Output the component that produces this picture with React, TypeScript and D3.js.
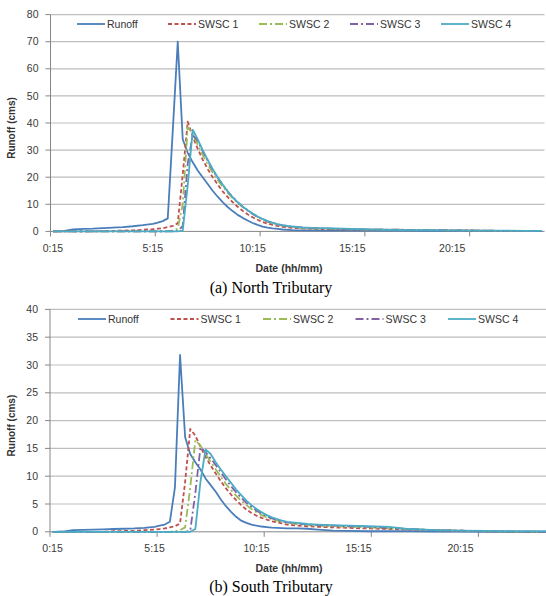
import React from "react";
import * as d3 from "d3";

// sample times in hours (15 min steps near the peak, coarser in the tails)
const sampleTimes = [
  0.25, 0.75, 1.25, 1.75, 2.25, 2.75, 3.25, 3.75, 4.25, 4.75, 5.25,
  5.5, 5.75, 6.0, 6.25, 6.5, 6.75, 7.0, 7.25, 7.5, 7.75, 8.0, 8.25, 8.5, 8.75, 9.0,
  9.25, 9.5, 9.75, 10.0, 10.25, 10.5, 10.75, 11.0, 11.25, 11.5, 11.75,
  12.25, 12.75, 13.25, 14.0, 14.75, 15.75, 16.75, 17.75, 19.0, 20.25, 21.5, 22.75, 24.0, 24.75,
];

const tickLabels = ["0:15", "5:15", "10:15", "15:15", "20:15"];
const seriesNames = ["Runoff", "SWSC 1", "SWSC 2", "SWSC 3", "SWSC 4"];

// (a) North Tributary
const northRunoff = [
  0, 0.1, 0.7, 0.9, 1.0, 1.2, 1.4, 1.6, 1.9, 2.3, 2.8,
  3.2, 3.8, 4.8, 37, 70, 34, 29, 25.5, 22.5, 20, 17.5, 15, 12.8, 10.8, 9, 7.5, 6.1, 5, 4, 3.1, 2.4, 1.8, 1.4, 1.1, 0.9, 0.7,
  0.5, 0.4, 0.4, 0.3, 0.3, 0.3, 0.3, 0.3, 0.2, 0.2, 0.2, 0.1, 0.1, 0.1,
];
const northSwsc1 = [
  0, 0, 0, 0, 0, 0.1, 0.2, 0.3, 0.4, 0.6, 0.8,
  1.0, 1.2, 1.6, 2.0, 3.0, 21, 40.5, 35, 30.5, 26.5, 23, 20, 17.3, 14.8, 12.7, 10.8, 9.1, 7.6, 6.3, 5.2, 4.3, 3.5, 2.9, 2.4, 2.0, 1.7,
  1.3, 1.1, 1.0, 0.8, 0.7, 0.6, 0.6, 0.5, 0.5, 0.4, 0.3, 0.2, 0.2, 0.1,
];
const northSwsc2 = [
  0, 0, 0, 0, 0, 0, 0, 0, 0, 0, 0,
  0, 0, 0.1, 0.3, 1.0, 10, 38.5, 36, 32, 28.3, 24.8, 21.7, 19, 16.5, 14.3, 12.3, 10.5, 9, 7.6, 6.4, 5.3, 4.4, 3.6, 3.0, 2.5, 2.1,
  1.6, 1.3, 1.1, 0.9, 0.8, 0.7, 0.6, 0.6, 0.5, 0.4, 0.3, 0.2, 0.2, 0.1,
];
const northSwsc3 = [
  0, 0, 0, 0, 0, 0, 0, 0, 0, 0, 0,
  0, 0, 0, 0, 0.1, 2, 25, 35.5, 33.5, 29.5, 26, 22.7, 19.8, 17.2, 14.8, 12.7, 10.8, 9.2, 7.8, 6.5, 5.4, 4.5, 3.7, 3.1, 2.6, 2.2,
  1.7, 1.4, 1.2, 1.0, 0.8, 0.7, 0.6, 0.6, 0.5, 0.4, 0.3, 0.2, 0.2, 0.1,
];
const northSwsc4 = [
  0, 0, 0, 0, 0, 0, 0, 0, 0, 0, 0,
  0, 0, 0, 0, 0, 0.3, 17, 37.5, 34, 30, 26.5, 23, 20, 17.3, 14.8, 12.6, 10.8, 9.2, 7.8, 6.6, 5.5, 4.6, 3.8, 3.2, 2.7, 2.3,
  1.8, 1.5, 1.3, 1.2, 1.0, 0.8, 0.6, 0.5, 0.5, 0.4, 0.3, 0.3, 0.2, 0.2,
];

// (b) South Tributary
const southRunoff = [
  0, 0.05, 0.3, 0.35, 0.4, 0.45, 0.5, 0.55, 0.6, 0.7, 0.9,
  1.1, 1.3, 1.8, 8, 31.8, 17, 14, 12.5, 11.2, 9.6, 8.4, 7.2, 5.8, 4.6, 3.6, 2.7, 2.0, 1.6, 1.3, 1.1, 0.95, 0.85, 0.75, 0.7, 0.65, 0.6,
  0.6, 0.55, 0.4, 0.2, 0.15, 0.1, 0.1, 0.1, 0.05, 0.05, 0, 0, 0, 0,
];
const southSwsc1 = [
  0, 0, 0, 0, 0, 0, 0.1, 0.15, 0.2, 0.3, 0.4,
  0.5, 0.6, 0.8, 1.0, 1.5, 9, 18.5, 17.3, 15.3, 13.5, 11.9, 10.5, 9.1, 7.8, 6.7, 5.7, 4.8, 4.0, 3.4, 2.9, 2.5, 2.2, 1.9, 1.7, 1.5, 1.3,
  1.1, 1.0, 0.9, 0.8, 0.7, 0.6, 0.5, 0.4, 0.3, 0.2, 0.1, 0.05, 0, 0,
];
const southSwsc2 = [
  0, 0, 0, 0, 0, 0, 0, 0, 0, 0, 0,
  0, 0, 0, 0.1, 0.3, 0.8, 8, 16.5, 15.5, 14, 12.6, 11.2, 9.9, 8.6, 7.5, 6.5, 5.6, 4.8, 4.1, 3.5, 3.0, 2.6, 2.3, 2.0, 1.8, 1.6,
  1.4, 1.2, 1.1, 1.0, 0.9, 0.8, 0.6, 0.5, 0.3, 0.2, 0.1, 0.05, 0, 0,
];
const southSwsc3 = [
  0, 0, 0, 0, 0, 0, 0, 0, 0, 0, 0,
  0, 0, 0, 0, 0, 0, 0.2, 7, 15.2, 14.3, 13.2, 12, 10.7, 9.4, 8.2, 7.1, 6.1, 5.2, 4.5, 3.8, 3.3, 2.8, 2.4, 2.1, 1.9, 1.7,
  1.5, 1.3, 1.2, 1.1, 1.0, 0.9, 0.7, 0.5, 0.3, 0.2, 0.1, 0.05, 0, 0,
];
const southSwsc4 = [
  0, 0, 0, 0, 0, 0, 0, 0, 0, 0, 0,
  0, 0, 0, 0, 0, 0, 0, 0.5, 9, 14.8, 14, 12.5, 11.2, 10, 8.8, 7.6, 6.6, 5.6, 4.8, 4.1, 3.5, 3.0, 2.6, 2.3, 2.0, 1.8,
  1.6, 1.4, 1.3, 1.2, 1.1, 1.0, 0.9, 0.5, 0.3, 0.2, 0.15, 0.1, 0.1, 0.1,
];

const styles = [
  { color: "#4A7EBB", dash: "" },
  { color: "#C0504D", dash: "4,2.5" },
  { color: "#9BBB59", dash: "8,3,2,3" },
  { color: "#8064A2", dash: "8,3,2,3" },
  { color: "#4BACC6", dash: "" },
];

const FONT = "'Liberation Sans', Arial, sans-serif";
const nCats = 99;

function parseLabel(s: string) {
  const [h, m] = s.split(":").map(Number);
  return h + m / 60;
}

function Panel(props: any) {
  const { series, yMax, yStep, top, bottom, x0, catW, legendX, legendStep, legendY,
    labelY, titleY, caption, captionY } = props;

  // one category = 15 min, centred on its time
  const x = d3.scaleLinear().domain([0.125, 0.125 + nCats / 4]).range([x0, x0 + nCats * catW]);
  const y = d3.scaleLinear().domain([0, yMax]).range([bottom, top]);
  const yTicks = d3.range(0, yMax + 0.001, yStep);
  const xRight = x0 + nCats * catW;

  const line = d3.line<number>()
    .x((_, i) => x(sampleTimes[i]))
    .y((v) => y(v));

  const tickCats = d3.range(0, nCats + 1, 21);

  return (
    <g>
      {yTicks.map((t) => (
        <g key={t}>
          {t > 0 && <line x1={x0} x2={xRight} y1={y(t)} y2={y(t)} stroke="#BEBEBE" strokeWidth={1.2} />}
          <line x1={x0 - 5} x2={x0} y1={y(t)} y2={y(t)} stroke="#868686" strokeWidth={1} />
          <text x={x0 - 12} y={y(t)} dy="0.35em" textAnchor="end" fontSize={10.5}
            fontFamily={FONT} fill="#3a3a3a">{t}</text>
        </g>
      ))}
      <line x1={x0} x2={x0} y1={top} y2={bottom} stroke="#868686" strokeWidth={1} />
      <line x1={x0} x2={xRight} y1={bottom} y2={bottom} stroke="#868686" strokeWidth={1} />
      {tickCats.map((c) => (
        <line key={c} x1={x0 + c * catW} x2={x0 + c * catW} y1={bottom} y2={bottom + 5}
          stroke="#868686" strokeWidth={1} />
      ))}
      {tickLabels.map((l) => (
        <text key={l} x={x(parseLabel(l))} y={labelY} textAnchor="middle" fontSize={10.5}
          fontFamily={FONT} fill="#3a3a3a">{l}</text>
      ))}

      {series.map((s: number[], k: number) => (
        <path key={k} d={line(s) || ""} fill="none" stroke={styles[k].color}
          strokeWidth={1.8} strokeDasharray={styles[k].dash} strokeLinejoin="round" />
      ))}

      {seriesNames.map((n, k) => {
        const lx = legendX + k * legendStep;
        return (
          <g key={n}>
            <line x1={lx} x2={lx + 28} y1={legendY} y2={legendY} stroke={styles[k].color}
              strokeWidth={1.8} strokeDasharray={styles[k].dash} />
            <text x={lx + 30} y={legendY} dy="0.35em" fontSize={10.5} fontFamily={FONT}
              fill="#333">{n}</text>
          </g>
        );
      })}

      <text transform={`translate(15,${(top + bottom) / 2 + 5}) rotate(-90)`} textAnchor="middle"
        fontSize={10} fontWeight="bold" fontFamily={FONT} fill="#333">Runoff (cms)</text>
      <text x={289} y={titleY} textAnchor="middle" fontSize={10.5} fontWeight="bold"
        fontFamily={FONT} fill="#333">Date (hh/mm)</text>
      <text x={271} y={captionY} textAnchor="middle" fontSize={16}
        fontFamily="'Liberation Serif', 'Times New Roman', serif" fill="#000">{caption}</text>
    </g>
  );
}

export default function App() {
  return (
    <svg width={546} height={596} style={{ position: "absolute", left: 0, top: 0, background: "#fff" }}>
      <Panel series={[northRunoff, northSwsc1, northSwsc2, northSwsc3, northSwsc4]}
        yMax={80} yStep={10} top={14.6} bottom={231.4} x0={50.5} catW={4.99}
        legendX={77} legendStep={91} legendY={24} labelY={252} titleY={272}
        caption="(a) North Tributary" captionY={293} />
      <Panel series={[southRunoff, southSwsc1, southSwsc2, southSwsc3, southSwsc4]}
        yMax={40} yStep={5} top={309.4} bottom={531.8} x0={50} catW={5.1}
        legendX={78} legendStep={92.5} legendY={319} labelY={552} titleY={572}
        caption="(b) South Tributary" captionY={592} />
    </svg>
  );
}
